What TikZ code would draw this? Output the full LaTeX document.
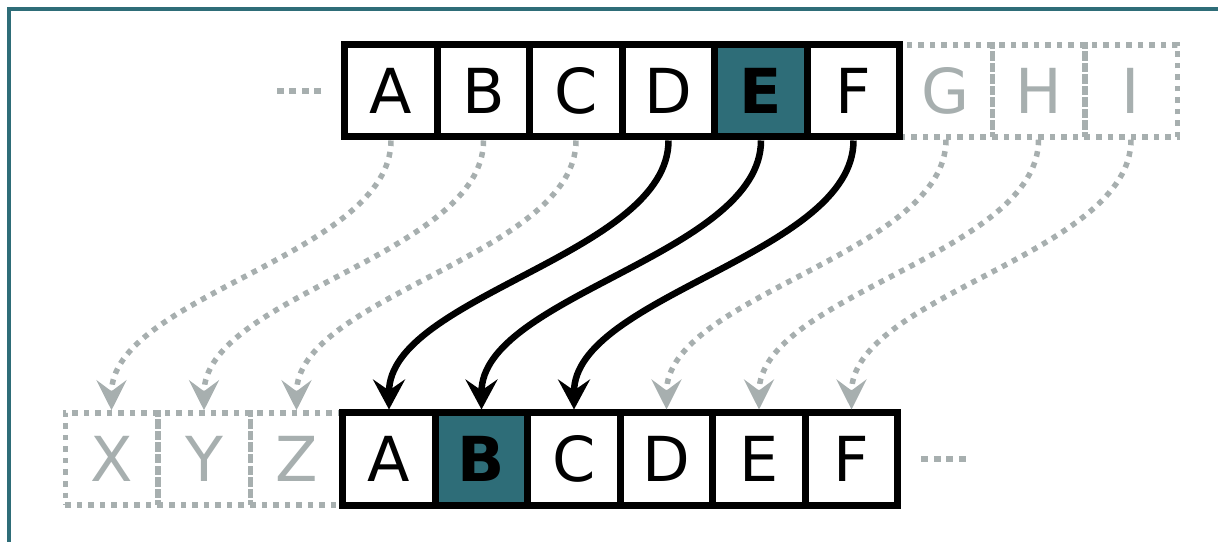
\documentclass[tikz,border=0pt]{standalone}
\usepackage{fontspec}
\setmainfont{DejaVu Sans}
\usepackage{tikz}
\usetikzlibrary{arrows.meta}
\definecolor{shiftteal}{HTML}{2E6D78}
\definecolor{ghostgrey}{HTML}{A7AFAF}

\begin{document}
\begin{tikzpicture}[x=1pt, y=1pt,
    letterbox/.style={draw=black, line width=7pt, fill=white, minimum width=92.5pt, minimum height=92pt,
      inner sep=0pt, font=\fontsize{62}{70}\selectfont},
    keybox/.style={letterbox, fill=shiftteal, font=\fontsize{62}{70}\selectfont\bfseries},
    ghostbox/.style={draw=ghostgrey, text=ghostgrey, line width=5.5pt, dash pattern=on 5.5pt off 6pt,
      minimum width=92.5pt, minimum height=92pt, inner sep=0pt, font=\fontsize{62}{70}\selectfont},
    shiftarrow/.style={line width=6.5pt, -{Stealth[length=30pt, width=32pt, inset=11pt]}},
    ghostarrow/.style={ghostgrey, line width=5.5pt, dash pattern=on 5.5pt off 6pt,
      -{Stealth[length=30pt, width=30pt, inset=11pt]}},
    ellipsis/.style={ghostgrey, line width=6pt, dash pattern=on 7pt off 5.5pt}]

  \useasboundingbox (0,0) rectangle (1218,541);
  \clip (0,0) rectangle (1218,541);

  % Frame
  \draw[shiftteal, line width=3.5pt] (9,532) rectangle (1240,-20);

  % -------------------------
  % TOP: plain alphabet
  % -------------------------
  \foreach \l [count=\i] in {G,H,I}
    \node[ghostbox] (t\l) at ({853.5+92.5*\i},450) {\l};
  \foreach \l [count=\i] in {A,B,C,D}
    \node[letterbox] (t\l) at ({298.5+92.5*\i},450) {\l};
  \node[keybox] (tE) at (761,450) {E};
  \node[letterbox] (tF) at (853.5,450) {F};
  \draw[ellipsis] ([xshift=-20pt]tA.west) -- ++(-46,0);

  % -------------------------
  % BOTTOM: shifted alphabet
  % -------------------------
  \foreach \l [count=\i] in {X,Y,Z}
    \node[ghostbox] (b\l) at ({19+92.5*\i},82) {\l};
  \node[letterbox] (bA) at (389,82) {A};
  \node[keybox] (bB) at (481.5,82) {B};
  \foreach \l [count=\i] in {C,D,E,F}
    \node[letterbox] (b\l) at ({481.5+92.5*\i},82) {\l};
  \draw[ellipsis] ([xshift=20pt]bF.east) -- ++(46,0);

  % Shift arrows
  \draw[ghostarrow] (tA.south) to[out=-90, in=90, looseness=0.75] (bX.north);
  \draw[ghostarrow] (tB.south) to[out=-90, in=90, looseness=0.75] (bY.north);
  \draw[ghostarrow] (tC.south) to[out=-90, in=90, looseness=0.75] (bZ.north);
  \draw[ghostarrow] (tG.south) to[out=-90, in=90, looseness=0.75] (bD.north);
  \draw[ghostarrow] (tH.south) to[out=-90, in=90, looseness=0.75] (bE.north);
  \draw[ghostarrow] (tI.south) to[out=-90, in=90, looseness=0.75] (bF.north);
  \draw[shiftarrow] (tD.south) to[out=-90, in=90, looseness=0.75] (bA.north);
  \draw[shiftarrow] (tE.south) to[out=-90, in=90, looseness=0.75] (bB.north);
  \draw[shiftarrow] (tF.south) to[out=-90, in=90, looseness=0.75] (bC.north);
\end{tikzpicture}
\end{document}
